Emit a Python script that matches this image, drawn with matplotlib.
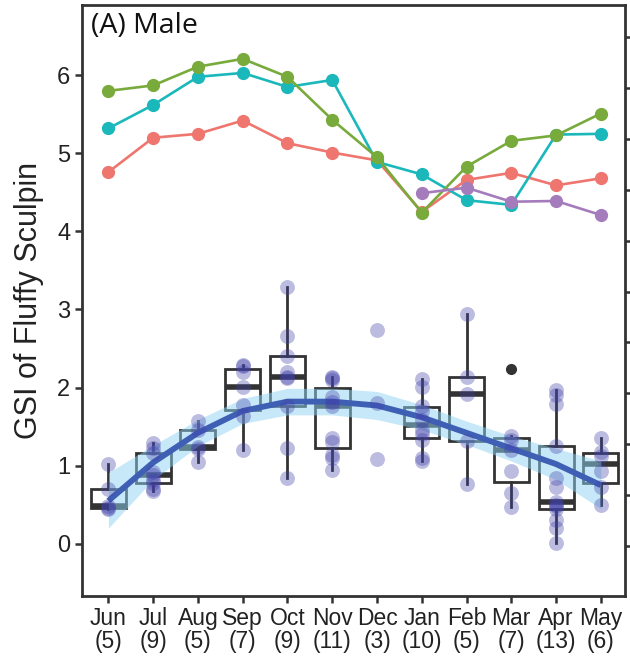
import numpy as np
import matplotlib
matplotlib.use("Agg")
import matplotlib.pyplot as plt
from matplotlib import font_manager

months = ["Jun", "Jul", "Aug", "Sep", "Oct", "Nov", "Dec", "Jan", "Feb", "Mar", "Apr", "May"]
counts = [5, 9, 5, 7, 9, 11, 3, 10, 5, 7, 13, 6]

# individual GSI values per month
gsi_jun = [1.02, 0.70, 0.48, 0.46, 0.44]
gsi_jul = [1.29, 1.22, 1.16, 0.92, 0.88, 0.82, 0.78, 0.70, 0.67]
gsi_aug = [1.57, 1.46, 1.24, 1.21, 1.05]
gsi_sep = [2.29, 2.27, 2.20, 2.01, 1.78, 1.64, 1.20]
gsi_oct = [3.29, 2.66, 2.40, 2.20, 2.14, 2.12, 1.76, 1.22, 0.84]
gsi_nov = [2.13, 2.12, 2.10, 1.88, 1.82, 1.77, 1.35, 1.30, 1.14, 1.10, 0.95]
gsi_dec = [2.74, 1.80, 1.08]
gsi_jan = [2.11, 2.01, 1.76, 1.70, 1.59, 1.45, 1.40, 1.33, 1.10, 1.06]
gsi_feb = [2.94, 2.14, 1.92, 1.31, 0.77]
gsi_mar = [2.24, 1.38, 1.33, 1.20, 0.93, 0.65, 0.47]
gsi_apr = [1.97, 1.90, 1.79, 1.25, 0.84, 0.72, 0.53, 0.50, 0.48, 0.45, 0.30, 0.20, 0.01]
gsi_may = [1.35, 1.18, 1.12, 0.93, 0.73, 0.50]
gsi_all = [gsi_jun, gsi_jul, gsi_aug, gsi_sep, gsi_oct, gsi_nov,
           gsi_dec, gsi_jan, gsi_feb, gsi_mar, gsi_apr, gsi_may]
show_box = [True, True, True, True, True, True, False, True, True, True, True, True]

# smoothed trend and confidence band
smooth_fit = [0.55, 1.04, 1.42, 1.70, 1.82, 1.82, 1.77, 1.62, 1.42, 1.22, 1.02, 0.75]
smooth_lo = [0.20, 0.82, 1.25, 1.54, 1.65, 1.65, 1.59, 1.46, 1.27, 1.06, 0.82, 0.45]
smooth_hi = [0.91, 1.26, 1.59, 1.86, 1.99, 1.99, 1.95, 1.78, 1.57, 1.38, 1.22, 1.06]

# upper colored series
series_red = [4.76, 5.20, 5.25, 5.42, 5.13, 5.01, 4.91, 4.25, 4.66, 4.75, 4.59, 4.68]
series_green = [5.80, 5.87, 6.11, 6.21, 5.98, 5.43, 4.95, 4.24, 4.83, 5.16, 5.23, 5.51]
series_teal = [5.32, 5.62, 5.98, 6.03, 5.85, 5.94, 4.89, 4.73, 4.40, 4.34, 5.24, 5.25]
series_purple = [None, None, None, None, None, None, None, 4.49, 4.56, 4.38, 4.39, 4.21]

yticks = [0, 1, 2, 3, 4, 5, 6]
right_ticks = list(range(0, 11))

fig = plt.figure(figsize=(6.3, 6.57), dpi=100)
ax = fig.add_axes([82/630, 61/657, 543/630, 591/657])
x = np.arange(1, 13)

dark = "#333333"
# boxplots
bx = [x[i] for i in range(12) if show_box[i]]
bd = [gsi_all[i] for i in range(12) if show_box[i]]
bp = ax.boxplot(bd, positions=bx, widths=0.78, patch_artist=True, manage_ticks=False,
                boxprops=dict(facecolor="white", edgecolor=dark, linewidth=2.0),
                medianprops=dict(color=dark, linewidth=4.0, solid_capstyle="butt"),
                whiskerprops=dict(color=dark, linewidth=2.0),
                capprops=dict(linewidth=0),
                flierprops=dict(marker="o", markerfacecolor=dark, markeredgecolor=dark, markersize=7),
                zorder=2)

# ribbon and smooth line
ax.fill_between(x, smooth_lo, smooth_hi, color="#8ED3F2", alpha=0.5, linewidth=0, zorder=3)
ax.plot(x, smooth_fit, color="#3F5FB5", linewidth=4.2, solid_capstyle="butt", zorder=4)

# individual points (outliers shown only as black dots)
for i, vals in enumerate(gsi_all):
    v = np.array(vals)
    if show_box[i]:
        q1, q3 = np.percentile(v, [25, 75])
        iqr = q3 - q1
        keep = (v >= q1 - 1.5 * iqr) & (v <= q3 + 1.5 * iqr)
        v = v[keep]
    ax.scatter(np.full(len(v), x[i]), v, s=115, color="#4040A8", alpha=0.35,
               linewidths=0, zorder=5)

# upper series
for vals, col in [(series_red, "#EE766F"), (series_teal, "#1BB8BB"),
                  (series_green, "#78AB3C"), (series_purple, "#A47CBC")]:
    xs = [x[i] for i in range(12) if vals[i] is not None]
    ys = [vals[i] for i in range(12) if vals[i] is not None]
    ax.plot(xs, ys, color=col, linewidth=1.9, marker="o", markersize=8.5, zorder=6)

ax.set_xlim(0.41, 12.54)
ax.set_ylim(-0.67, 6.90)
ax.set_yticks(yticks)
ax.set_yticklabels([str(t) for t in yticks], fontsize=17, family="Liberation Sans", color="#222222")
ax.set_xticks(x)
ax.set_xticklabels([f"{m}\n({n})" for m, n in zip(months, counts)], fontsize=16.5,
                   family="Liberation Sans", color="#222222", linespacing=1.0)
ax.tick_params(axis="both", length=5, width=1.8, color=dark)
ax.tick_params(axis="x", pad=3)
for s in ax.spines.values():
    s.set_linewidth(2.0)
    s.set_color(dark)
ax.set_ylabel("GSI of Fluffy Sculpin", fontsize=22, family="Liberation Sans", color="#222222", labelpad=9)
ax.text(0.016, 0.988, "(A) Male", transform=ax.transAxes, ha="left", va="top",
        fontsize=20.5, family="Open Sans", color="#111111")

# right-side axis ticks (unlabeled)
ax2 = ax.twinx()
ax2.set_ylim(-0.98, 10.63)
ax2.set_yticks(right_ticks)
ax2.set_yticklabels([])
ax2.tick_params(axis="y", length=5, width=1.8, color=dark)
for s in ax2.spines.values():
    s.set_visible(False)

fig.savefig("out.png", dpi=100)
